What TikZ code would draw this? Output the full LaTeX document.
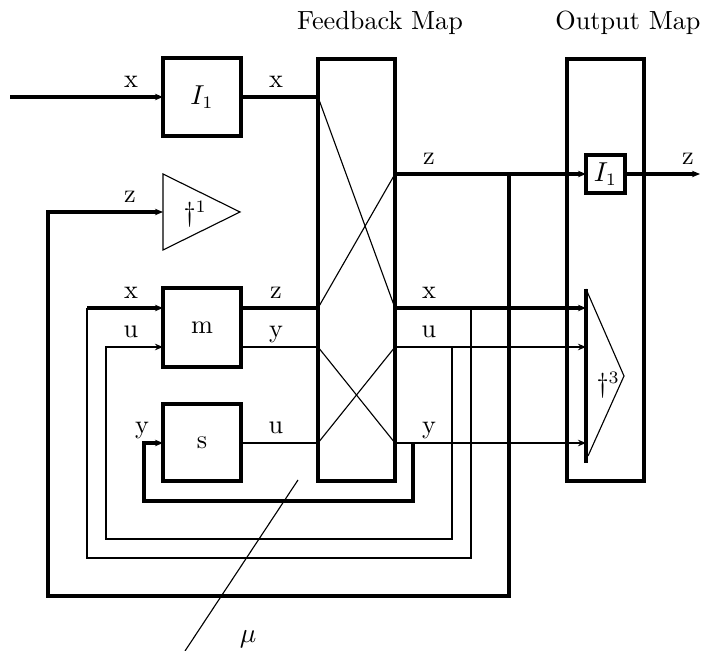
\documentclass[tikz,border=0pt]{standalone}
\usetikzlibrary{arrows.meta}
\begin{document}
\begin{tikzpicture}[x=0.4pt,y=-0.4pt,
  every node/.style={font=\fontsize{10.5}{12}\selectfont},
  thk/.style={line width=1.35pt},
  thn/.style={line width=0.9pt},
  hair/.style={line width=0.45pt},
  box/.style={draw,line width=1.25pt,inner sep=0pt,outer sep=0pt},
  arr/.style={-{Stealth[length=3.2pt,width=2.6pt,inset=1pt]}},
  lbl/.style={inner sep=0pt,anchor=base}]
\useasboundingbox (0,0) rectangle (701,651);

% boxes
\node[box,minimum width=31.2pt,minimum height=31.2pt] (I1a) at (202,97) {$I_1$};
\node[box,minimum width=31.2pt,minimum height=31.6pt] (m) at (202,327.5) {m};
\node[box,minimum width=31.2pt,minimum height=30.8pt] (s) at (202,442.5) {s};
\node[box,minimum width=30.8pt,minimum height=168.8pt] (FB) at (356.5,270) {};
\node[box,minimum width=30.8pt,minimum height=168.8pt] (OM) at (605.5,270) {};
\node[box,minimum width=15.6pt,minimum height=15.2pt] (I1b) at (605.5,174) {$I_1$};

% titles
\node[lbl] (tFB) at (380,30) {Feedback Map};
\node[lbl] (tOM) at (628,30) {Output Map};

% triangle dagger 1
\coordinate (t1a) at (163,174);
\coordinate (t1b) at (240,212);
\coordinate (t1c) at (163,250);
\coordinate (t1in) at (163,212);
\draw[hair,line join=miter] (t1a) -- (t1b) -- (t1c) -- cycle;
\node[lbl,anchor=base west] (d1) at (183,222) {$\dagger^1$};

% triangle dagger 3
\coordinate (t3a) at (586,289);
\coordinate (t3b) at (586,463);
\coordinate (t3c) at (624,376);
\coordinate (t3d) at (588,456);
\draw[hair] (t3a) -- (t3c) -- (t3d);
\draw[line width=1.5pt] (t3a) -- (t3b);
\node[lbl,anchor=base west] (d3) at (596,393) {$\dagger^3$};

% ports
\coordinate (inx) at (10,97);
\coordinate (fbLx) at (FB.west |- I1a.east);
\coordinate (fbLz) at (318,308);
\coordinate (fbLy) at (318,347);
\coordinate (fbLu) at (318,443);
\coordinate (fbRz) at (FB.east |- I1b.west);
\coordinate (fbRx) at (395,308);
\coordinate (fbRu) at (395,347);
\coordinate (fbRy) at (395,443);
\coordinate (mx) at (163,308);
\coordinate (mu) at (163,347);
\coordinate (mz) at (241,308);
\coordinate (my) at (241,347);
\coordinate (sy) at (163,443);
\coordinate (su) at (241,443);
\coordinate (ox) at (586,308);
\coordinate (ou) at (586,347);
\coordinate (oy) at (586,443);
\coordinate (zout) at (700,174);

% input and I1 output
\draw[thk,arr] (inx) -- (I1a.west);
\draw[thk] (I1a.east) -- (fbLx);
\draw[thk] (mz) -- (fbLz);
\draw[thn] (my) -- (fbLy);
\draw[thn] (su) -- (fbLu);

% crossings inside feedback map
\draw[hair] (fbLx) -- (fbRx);
\draw[hair] (fbLz) -- (fbRz);
\draw[hair] (fbLy) -- (fbRy);
\draw[hair] (fbLu) -- (fbRu);

% right-hand outputs
\draw[thk,arr] (fbRz) -- (I1b.west);
\draw[thk,arr] (I1b.east) -- (zout);
\draw[thk,arr] (fbRx) -- (ox);
\draw[thn,arr] (fbRu) -- (ou);
\draw[thn,arr] (fbRy) -- (oy);

% feedback loops
\draw[thk,arr] (509,174) -- (509,596) -- (48,596) -- (48,212) -- (t1in);
\draw[thn] (471,308) -- (471,558) -- (87,558) -- (87,308);
\draw[thk,arr] (87,308) -- (mx);
\draw[thn,arr] (452,347) -- (452,539) -- (106,539) -- (106,347) -- (mu);
\draw[thk,arr] (413,443) -- (413,501) -- (144,501) -- (144,443) -- (sy);

% labels
\node[lbl] (lx1) at (131,88) {x};
\node[lbl] (lx2) at (276,88) {x};
\node[lbl] (lz1) at (130,203) {z};
\node[lbl] (lz2) at (429,165) {z};
\node[lbl] (lz3) at (688,165) {z};
\node[lbl] (lx3) at (131,299) {x};
\node[lbl] (lu1) at (131,338) {u};
\node[lbl] (ly1) at (142,434) {y};
\node[lbl] (lz4) at (276,299) {z};
\node[lbl] (ly2) at (276,338) {y};
\node[lbl] (lu2) at (276,434) {u};
\node[lbl] (lx4) at (429,299) {x};
\node[lbl] (lu3) at (429,338) {u};
\node[lbl] (ly3) at (429,434) {y};

% mu
\coordinate (mua) at (298,480);
\coordinate (mub) at (185,651);
\draw[hair] (mua) -- (mub);
\node[lbl] (lmu) at (248,643) {$\mu$};
\end{tikzpicture}
\end{document}
